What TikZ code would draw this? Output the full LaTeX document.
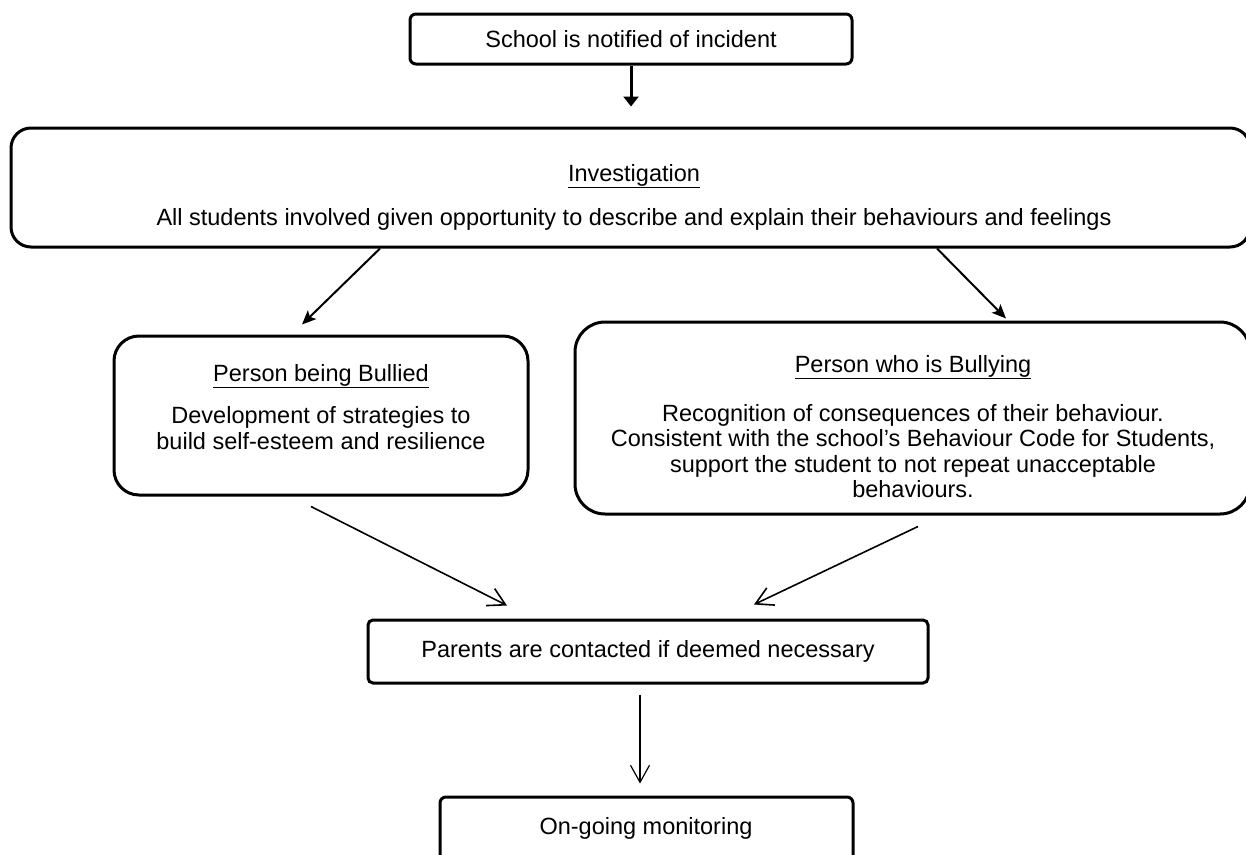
\documentclass[tikz,border=0pt]{standalone}
\usepackage{fontspec}
\setmainfont{Liberation Sans}
\usepackage{tikz}
\usetikzlibrary{arrows.meta}

\begin{document}
\begin{tikzpicture}[x=1pt,y=-1pt,
  box/.style={draw,line width=3pt,inner sep=0pt},
  txt/.style={font=\fontsize{23.5}{25.5}\selectfont,align=center,inner sep=0pt},
  heavyarrow/.style={line width=3pt,-{Triangle[length=10pt,width=15pt]}},
  fillarrow/.style={line width=2pt,-{Stealth[length=14pt,width=12pt,inset=3pt]}},
  openarrow/.style={line width=1.6pt,-{Straight Barb[length=17pt,width=19pt]}}]
  \useasboundingbox (0,0) rectangle (1246,854);

  %top
  \node[box,txt,rounded corners=6pt,minimum width=442pt,minimum height=50pt]
    (school) at (631,39) {School is notified of incident};
  \node[box,rounded corners=20pt,minimum width=1239pt,minimum height=119pt]
    (invest) at (630.5,187.5) {};
  \node[txt] (investtitle) at (634,176) {\underline{Investigation}};
  \node[txt] (investtext) at (634,219)
    {All students involved given opportunity to describe and explain their behaviours and feelings};

  %left
  \node[box,rounded corners=25pt,minimum width=414pt,minimum height=159pt]
    (bullied) at (321,415.5) {};
  \node[txt] (bulliedtitle) at (321,376) {\underline{Person being Bullied}};
  \node[txt] (bulliedtext) at (321,428)
    {Development of strategies to\\build self-esteem and resilience};

  %right
  \node[box,rounded corners=30pt,minimum width=675pt,minimum height=192pt]
    (bully) at (912.5,418) {};
  \node[txt] (bullytitle) at (913,367) {\underline{Person who is Bullying}};
  \node[txt] (bullytext) at (913,451)
    {Recognition of consequences of their behaviour.\\
     Consistent with the school’s Behaviour Code for Students,\\
     support the student to not repeat unacceptable\\
     behaviours.};

  %bottom
  \node[box,txt,rounded corners=5pt,minimum width=560pt,minimum height=63pt]
    (parents) at (648,651.5) {Parents are contacted if deemed necessary};
  \node[box,rounded corners=6pt,minimum width=413pt,minimum height=83pt]
    (monitor) at (646.5,838.5) {};
  \node[txt] (monitortext) at (646,828) {On-going monitoring};

  %arrows
  \draw[heavyarrow,shorten >=20pt]
    (school.south)
    --
    (school.south |- invest.north);
  \draw[fillarrow]
    ([xshift=-250.5pt]invest.south)
    --
    ([xshift=-19pt,yshift=10pt]bullied.north);
  \draw[fillarrow]
    ([xshift=306.5pt]invest.south)
    --
    ([xshift=93.5pt,yshift=2pt]bully.north);
  \draw[openarrow]
    ([xshift=-10pt,yshift=-10pt]bullied.south)
    --
    ([xshift=-141pt,yshift=13pt]parents.north);
  \draw[openarrow]
    ([xshift=5.5pt,yshift=-11pt]bully.south)
    --
    ([xshift=106pt,yshift=14pt]parents.north);
  \draw[openarrow,line width=1.2pt]
    ([xshift=-8pt,yshift=-10pt]parents.south)
    --
    ([xshift=-6.5pt,yshift=12pt]monitor.north);
\end{tikzpicture}
\end{document}
